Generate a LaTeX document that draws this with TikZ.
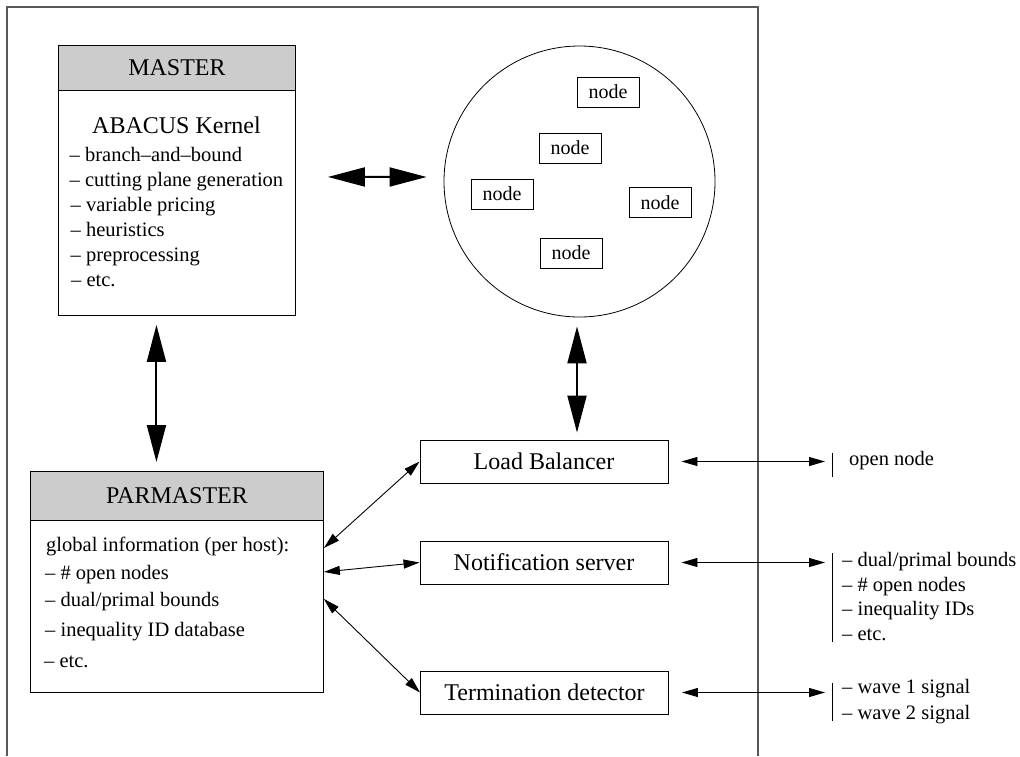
\documentclass[tikz,border=0pt]{standalone}
\usepackage{fontspec}
\setmainfont{Liberation Serif}
\usetikzlibrary{arrows.meta,calc}
\definecolor{headgray}{gray}{0.8}
\definecolor{framegray}{gray}{0.35}
\begin{document}
\begin{tikzpicture}[x=1pt,y=-1pt,
  txt/.style={font=\fontsize{20.5}{25}\selectfont, inner sep=0pt},
  bigtxt/.style={font=\fontsize{24}{28}\selectfont, inner sep=0pt},
  headbox/.style={draw, fill=headgray, line width=0.9pt, inner sep=0pt,
                  font=\fontsize{24}{28}\selectfont},
  bodybox/.style={draw, line width=0.9pt, inner sep=0pt},
  procbox/.style={draw, line width=0.9pt, minimum width=248pt, minimum height=43pt,
                  inner sep=0pt, font=\fontsize{24}{28}\selectfont},
  poolnode/.style={draw, line width=0.8pt, minimum width=62pt, minimum height=30pt,
                   inner sep=0pt, font=\fontsize{20}{24}\selectfont},
  bigarrow/.style={line width=2pt,
                   {Triangle[length=37pt,width=19pt]}-{Triangle[length=37pt,width=19pt]}},
  thinarrow/.style={line width=0.9pt,
                    {Triangle[length=16pt,width=9pt]}-{Triangle[length=16pt,width=9pt]}},
  bar/.style={line width=0.9pt},
]
\useasboundingbox (0,0) rectangle (1020,756);

% surrounding frame (open at the bottom)
\draw[framegray, line width=1.2pt] (7,756) -- (7,7) -- (758,7) -- (758,756);

% ---------- MASTER ----------
\node[bodybox, minimum width=237pt, minimum height=270pt, anchor=north west] (masterbody) at (58,45) {};
\node[headbox, minimum width=237pt, minimum height=45pt, anchor=north west] (master) at (58,45) {MASTER};
\node[bigtxt, anchor=base] (abacus) at (176.5,133.3) {ABACUS Kernel};
\node[txt, anchor=base west] (m1) at (69.5,161.7) {– branch–and–bound};
\node[txt, anchor=base west] (m2) at (69.5,186.6) {– cutting plane generation};
\node[txt, anchor=base west] (m3) at (70.5,211.5) {– variable pricing};
\node[txt, anchor=base west] (m4) at (70.5,236.4) {– heuristics};
\node[txt, anchor=base west] (m5) at (70.5,261.3) {– preprocessing};
\node[txt, anchor=base west] (m6) at (71,286.2) {– etc.};

% ---------- node pool ----------
\node[draw, circle, line width=0.8pt, minimum size=271pt, inner sep=0pt] (pool) at (579.5,181.5) {};
\node[poolnode] (n1) at (608,92) {node};
\node[poolnode] (n2) at (570,148) {node};
\node[poolnode] (n3) at (502,194) {node};
\node[poolnode] (n4) at (660,202.5) {node};
\node[poolnode] (n5) at (571,253) {node};

% ---------- PARMASTER ----------
\node[bodybox, minimum width=293pt, minimum height=221pt, anchor=north west] (parmasterbody) at (30,471) {};
\node[headbox, minimum width=293pt, minimum height=49pt, anchor=north west] (parmaster) at (30,471) {PARMASTER};
\node[txt, anchor=base west] (p1) at (46,551.7) {global information (per host):};
\node[txt, anchor=base west] (p2) at (45,579) {– \# open nodes};
\node[txt, anchor=base west] (p3) at (45,606) {– dual/primal bounds};
\node[txt, anchor=base west] (p4) at (45,636) {– inequality ID database};
\node[txt, anchor=base west] (p5) at (44,667) {– etc.};

% ---------- servers ----------
\node[procbox] (lb) at (544,461.5) {Load Balancer};
\node[procbox] (ns) at (544,562.5) {Notification server};
\node[procbox] (td) at (544.5,692.5) {Termination detector};

% ---------- message lists ----------
\coordinate (lbbar) at (832,463);
\coordinate (nsbar) at (832,563);
\coordinate (tdbar) at (832,692);
\draw[bar] ($(lbbar)+(0,-10)$) -- ($(lbbar)+(0,14)$);
\draw[bar] ($(nsbar)+(0,-10)$) -- ($(nsbar)+(0,79)$);
\draw[bar] ($(tdbar)+(0,-9)$) -- ($(tdbar)+(0,29)$);
\node[txt, anchor=base west] (l1) at (849,465) {open node};
\node[txt, anchor=base west] (s1) at (842,566.5) {– dual/primal bounds};
\node[txt, anchor=base west] (s2) at (842,591) {– \# open nodes};
\node[txt, anchor=base west] (s3) at (842,615.5) {– inequality IDs};
\node[txt, anchor=base west] (s4) at (842,640) {– etc.};
\node[txt, anchor=base west] (t1) at (842,693.3) {– wave 1 signal};
\node[txt, anchor=base west] (t2) at (842,719.3) {– wave 2 signal};

% ---------- connectors ----------
\draw[bigarrow] ($(masterbody.east)+(32,-3.5)$) -- ($(pool.west)+(-17,-4.5)$);
\draw[bigarrow] ($(masterbody.south)+(-20.5,9)$) -- ($(parmaster.north)+(-20.5,-9)$);
\draw[bigarrow] ($(pool.south)+(-2.5,9)$) -- ($(lb.north)+(33,-7)$);

\draw[thinarrow] ($(parmasterbody.east)+(0,-34)$) -- (lb.west);
\draw[thinarrow] ($(parmasterbody.east)+(0,-10)$) -- (ns.west);
\draw[thinarrow] ($(parmasterbody.east)+(0,17)$) -- (td.west);

\draw[thinarrow, shorten <=13pt, shorten >=7pt] (lb.east) -- (lb.east -| lbbar);
\draw[thinarrow, shorten <=13pt, shorten >=7pt] (ns.east) -- (ns.east -| nsbar);
\draw[thinarrow, shorten <=13pt, shorten >=7pt] (td.east) -- (td.east -| tdbar);
\end{tikzpicture}
\end{document}
